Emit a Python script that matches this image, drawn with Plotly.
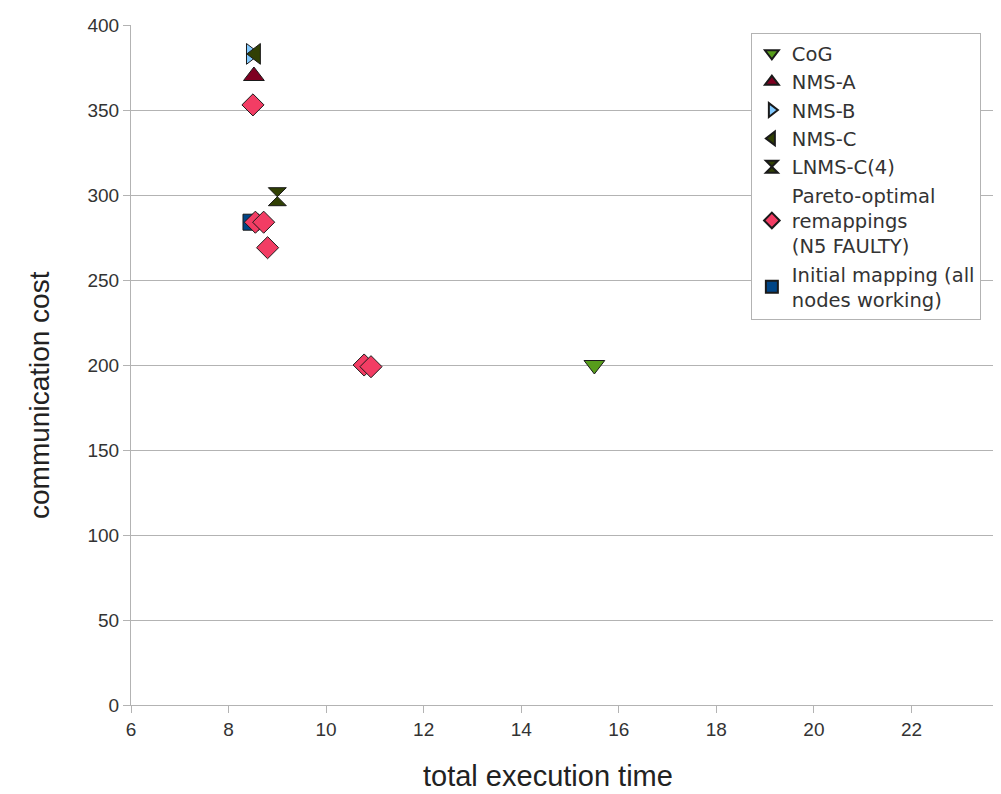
import plotly.graph_objects as go

# Data
cog_x = [15.5]; cog_y = [200]
nmsa_x = [8.52]; nmsa_y = [370]
nmsb_x = [8.46]; nmsb_y = [383]
nmsc_x = [8.56]; nmsc_y = [383]
lnms_x = [9.0]; lnms_y = [299]
pareto_x = [8.5, 8.55, 8.72, 8.8, 10.78, 10.92]
pareto_y = [353, 284, 284, 269, 200, 199]
init_x = [8.46]; init_y = [284]

series = [
    ("CoG", cog_x, cog_y, "triangle-down", "#579d1c", 18),
    ("NMS-A", nmsa_x, nmsa_y, "triangle-up", "#7e0021", 18),
    ("NMS-B", nmsb_x, nmsb_y, "triangle-right", "#83caff", 18),
    ("NMS-C", nmsc_x, nmsc_y, "triangle-left", "#314004", 18),
    ("LNMS-C(4)", lnms_x, lnms_y, "hourglass", "#314004", 18),
    ("Pareto-optimal<br>remappings<br>(N5 FAULTY)", pareto_x, pareto_y, "diamond", "#f23d64", 17),
    ("Initial mapping (all<br>nodes working)", init_x, init_y, "square", "#004586", 16),
]
draw_order = [6, 0, 1, 2, 3, 4, 5]

fig = go.Figure()
for i in draw_order:
    name, xs, ys, sym, col, sz = series[i]
    fig.add_trace(go.Scatter(
        x=xs, y=ys, mode="markers", name=name, legendrank=i + 1,
        marker=dict(symbol=sym, color=col, size=sz,
                    line=dict(color="#1a1a1a", width=1)),
    ))

fig.update_layout(
    width=1001, height=786,
    margin=dict(l=123, r=0, t=17, b=89),
    plot_bgcolor="white", paper_bgcolor="white",
    font=dict(family="Liberation Sans, Arial, sans-serif", color="#333333"),
    showlegend=True,
    legend=dict(
        x=0.706, y=0.988, xanchor="left", yanchor="top",
        bgcolor="white", bordercolor="#b3b3b3", borderwidth=1,
        font=dict(family="DejaVu Sans, sans-serif", size=19.5, color="#333333"),
        itemsizing="constant",
    ),
    xaxis=dict(
        range=[6, 24], dtick=2, tick0=6, automargin=False,
        showgrid=False, zeroline=False,
        showline=True, linecolor="#b3b3b3", linewidth=1,
        ticks="outside", ticklen=7, tickcolor="#b3b3b3",
        tickfont=dict(size=19, color="#333333"),
    ),
    yaxis=dict(
        range=[0, 400], dtick=50, automargin=False,
        showgrid=True, gridcolor="#b3b3b3", gridwidth=1,
        zeroline=False,
        showline=True, linecolor="#b3b3b3", linewidth=1,
        ticks="outside", ticklen=7, tickcolor="#b3b3b3",
        tickfont=dict(size=19, color="#333333"),
    ),
    annotations=[
        dict(text="total execution time", xref="paper", yref="paper",
             x=0.475, y=-0.104, xanchor="center", yanchor="middle",
             showarrow=False, font=dict(size=29, color="#222222")),
        dict(text="communication cost", xref="paper", yref="paper",
             x=-0.1036, y=0.456, xanchor="center", yanchor="middle",
             textangle=-90, showarrow=False,
             font=dict(size=28, color="#222222")),
    ],
)

fig.write_html("out.html")
